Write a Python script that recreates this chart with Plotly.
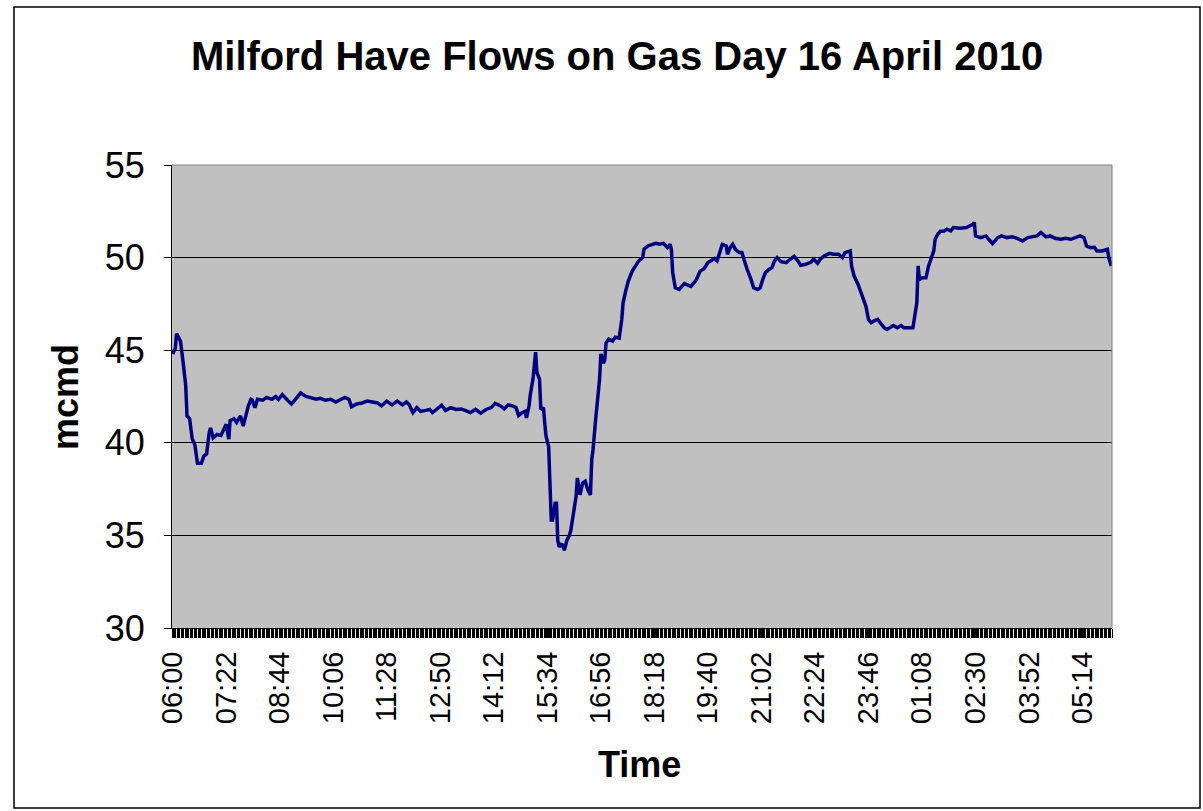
import plotly.graph_objects as go

# Minutes after 06:00 (gas day start) and flow values (mcmd)
minutes = [0, 4, 6, 10, 12, 16, 20, 22, 26, 30, 34, 38, 44, 48, 52, 56, 58, 62, 68, 74,
           78, 82, 86, 88, 94, 98, 104, 108, 112, 116, 120, 122, 126, 130, 138, 144, 152, 158, 162, 168,
           176, 182, 188, 196, 204, 212, 220, 226, 234, 242, 250, 258, 264, 270, 274, 282, 290, 298, 306, 314,
           320, 328, 336, 344, 352, 358, 362, 368, 374, 380, 388, 394, 398, 406, 412, 418, 426, 434, 442, 448,
           456, 464, 472, 480, 488, 494, 502, 508, 514, 520, 526, 530, 534, 540, 542, 546, 548, 552, 556, 558,
           562, 564, 568, 570, 572, 576, 578, 580, 582, 586, 588, 590, 592, 596, 600, 604, 608, 610, 614, 618,
           620, 624, 628, 632, 636, 640, 642, 644, 648, 652, 654, 656, 660, 662, 664, 668, 674, 678, 684, 688,
           690, 694, 698, 704, 710, 714, 720, 722, 728, 734, 740, 746, 752, 758, 762, 764, 766, 770, 776, 784,
           790, 794, 802, 808, 814, 820, 824, 830, 834, 838, 842, 848, 850, 854, 858, 862, 868, 872, 876, 880,
           886, 890, 896, 900, 904, 908, 914, 918, 922, 926, 932, 940, 946, 952, 958, 962, 970, 978, 982, 988,
           992, 998, 1006, 1012, 1020, 1026, 1030, 1038, 1040, 1044, 1050, 1054, 1058, 1062, 1066, 1070, 1074, 1080, 1084, 1090,
           1094, 1100, 1104, 1110, 1116, 1120, 1128, 1134, 1136, 1140, 1142, 1144, 1148, 1154, 1158, 1162, 1166, 1168, 1172, 1176,
           1182, 1186, 1192, 1196, 1206, 1216, 1226, 1228, 1230, 1238, 1246, 1250, 1256, 1264, 1270, 1278, 1286, 1294, 1302, 1310,
           1316, 1324, 1330, 1338, 1344, 1352, 1360, 1368, 1376, 1384, 1390, 1396, 1400, 1406, 1412, 1416, 1424, 1432, 1434, 1438]

flow = [44.8, 45.1, 45.9, 45.6, 45.5, 44.35, 43.1, 41.45, 41.3, 40.2, 39.9, 38.9, 38.9, 39.3, 39.4, 40.55, 40.8, 40.27, 40.45, 40.4,
        40.7, 41.0, 40.2, 41.2, 41.3, 41.1, 41.45, 40.9, 41.45, 42.0, 42.35, 42.3, 41.9, 42.35, 42.3, 42.45, 42.35, 42.5, 42.35, 42.6,
        42.3, 42.1, 42.35, 42.7, 42.5, 42.4, 42.35, 42.4, 42.3, 42.35, 42.2, 42.35, 42.45, 42.35, 41.95, 42.1, 42.15, 42.25, 42.2, 42.15,
        42.0, 42.25, 42.05, 42.25, 42.05, 42.2, 42.08, 41.63, 41.9, 41.7, 41.75, 41.8, 41.63, 41.83, 42.03, 41.75, 41.9, 41.8, 41.83, 41.75,
        41.63, 41.8, 41.6, 41.8, 41.9, 42.13, 42.0, 41.83, 42.05, 42.0, 41.9, 41.48, 41.6, 41.7, 41.35, 42.0, 42.63, 43.44, 44.9, 43.8,
        43.44, 41.8, 41.9, 41.08, 40.36, 39.8, 37.64, 35.83, 35.83, 36.74, 36.74, 34.74, 34.38, 34.56, 34.2, 34.74, 35.02, 35.29, 36.2, 37.1,
        38.1, 37.19, 37.83, 37.92, 37.46, 37.19, 39.1, 39.64, 41.27, 42.53, 43.44, 44.8, 44.3, 44.5, 45.4, 45.6, 45.5, 45.7, 45.65, 46.66,
        47.56, 48.19, 48.73, 49.27, 49.64, 49.82, 50.0, 50.45, 50.63, 50.72, 50.77, 50.72, 50.77, 50.54, 50.72, 50.45, 49.19, 48.37, 48.28, 48.6,
        48.5, 48.45, 48.79, 49.27, 49.4, 49.73, 49.82, 49.95, 49.82, 50.27, 50.72, 50.63, 50.18, 50.54, 50.72, 50.45, 50.27, 50.27, 49.73, 49.37,
        48.82, 48.37, 48.28, 48.37, 48.82, 49.19, 49.37, 49.46, 49.82, 50.0, 49.78, 49.73, 49.91, 50.07, 49.82, 49.58, 49.64, 49.76, 49.91, 49.7,
        49.91, 50.09, 50.23, 50.18, 50.18, 50.0, 50.27, 50.36, 49.55, 49.0, 48.55, 48.19, 47.83, 47.38, 46.66, 46.48, 46.57, 46.66, 46.48, 46.21,
        46.12, 46.27, 46.33, 46.21, 46.33, 46.21, 46.21, 46.21, 46.66, 47.56, 49.55, 48.82, 48.91, 48.91, 49.55, 50.0, 50.36, 50.99, 51.26, 51.42,
        51.44, 51.53, 51.44, 51.62, 51.59, 51.62, 51.8, 51.9, 51.17, 51.08, 51.17, 50.99, 50.76, 51.08, 51.17, 51.08, 51.12, 51.04, 50.9, 51.08,
        51.12, 51.17, 51.35, 51.12, 51.17, 51.04, 50.99, 51.04, 50.99, 51.12, 51.17, 51.08, 50.63, 50.54, 50.56, 50.36, 50.36, 50.45, 50.0, 49.55]

tick_labels = ["06:00", "07:22", "08:44", "10:06", "11:28", "12:50", "14:12", "15:34", "16:56",
               "18:18", "19:40", "21:02", "22:24", "23:46", "01:08", "02:30", "03:52", "05:14"]
y_ticks = [30, 35, 40, 45, 50, 55]

title_text = "Milford Have Flows on Gas Day 16 April 2010"
x_title = "Time"
y_title = "mcmd"


def offset(lbl):
    h, m = map(int, lbl.split(":"))
    return ((h * 60 + m) - 360) % 1440


tick_pos = [offset(l) for l in tick_labels]

W, H = 1203, 811
L, R, T, B = 172, 91, 165, 183
PW, PH = W - L - R, H - T - B


def px(x):
    return (x - L) / PW


def py(y):
    return (H - B - y) / PH


fig = go.Figure(go.Scatter(x=minutes, y=flow, mode="lines",
                           line=dict(color="#000080", width=3.5), hoverinfo="skip"))

fig.update_layout(
    width=W, height=H, margin=dict(l=L, r=R, t=T, b=B, pad=0),
    paper_bgcolor="white", plot_bgcolor="#C0C0C0", showlegend=False,
    font=dict(family="Liberation Sans, Arial, sans-serif", color="black"),
)

fig.update_xaxes(
    range=[-1, 1439], tickmode="array", tickvals=tick_pos, ticktext=tick_labels,
    tickangle=-90, tickfont=dict(size=29), ticks="outside", ticklen=9, tickcolor="black",
    showline=True, linecolor="black", linewidth=1, showgrid=False, zeroline=False,
    minor=dict(tickmode="linear", tick0=-1, dtick=2, ticks="outside", ticklen=9,
               tickcolor="black", tickwidth=1, showgrid=False),
    ticklabelstandoff=2,
)
fig.update_yaxes(
    range=[30, 55], tickmode="array", tickvals=y_ticks, tickfont=dict(size=36),
    ticks="outside", ticklen=7, tickcolor="black", showline=True, linecolor="black",
    showgrid=True, gridcolor="black", gridwidth=1, zeroline=False, ticklabelstandoff=12,
)

annotations = [
    dict(text="<b>" + title_text + "</b>", x=px(617), y=py(56), font=dict(size=40)),
    dict(text="<b>" + x_title + "</b>", x=px(639), y=py(764), font=dict(size=36)),
    dict(text="<b>" + y_title + "</b>", x=px(65), y=py(397), font=dict(size=36), textangle=-90),
]
for a in annotations:
    a.update(xref="paper", yref="paper", xanchor="center", yanchor="middle", showarrow=False)
fig.update_layout(annotations=annotations)

fig.update_layout(shapes=[
    dict(type="line", xref="paper", yref="paper", x0=0, x1=1, y0=1, y1=1,
         line=dict(color="#808080", width=1)),
    dict(type="line", xref="paper", yref="paper", x0=1, x1=1, y0=0, y1=1,
         line=dict(color="#808080", width=1)),
    dict(type="rect", xref="paper", yref="paper", x0=px(14), x1=px(1200), y0=py(808), y1=py(7),
         line=dict(color="black", width=1.5), fillcolor="rgba(0,0,0,0)"),
])

fig.write_html("out.html", config={"displayModeBar": False},
               post_script="document.body.style.margin='0';")
